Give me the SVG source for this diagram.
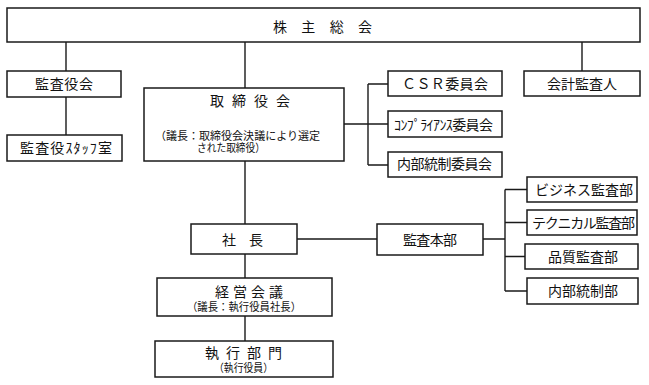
<svg xmlns="http://www.w3.org/2000/svg" width="649" height="385" viewBox="0 0 649 385">
<style>
.b{fill:#fff;stroke:#1a1a1a;stroke-width:1.5}
.c{fill:none;stroke:#1a1a1a;stroke-width:1.4}
text{font-family:"Noto Sans CJK JP","Noto Sans CJK SC",sans-serif;font-size:14px;fill:#111}
.s{font-size:11px}
</style>
<rect width="649" height="385" fill="#fff"/>
<g id="connectors">
<path class="c" d="M66 42V71M66 97V135M245 42V88M245 161V224M245 254V278M245 316V341M582 42V71"/>
<path class="c" d="M344 124H368M368 84V165M368 84H388M368 124H388M368 165H388"/>
<path class="c" d="M297 239H377M483 239H505M505 189.5V291M505 189.5H527M505 222.5H527M505 256.5H525M505 291H527"/>
</g>
<g id="n-sokai"><rect class="b" x="7" y="8" width="633" height="34"/><text x="273" y="32" textLength="99" lengthAdjust="spacing">株主総会</text></g>
<g id="n-kansayakukai"><rect class="b" x="7" y="71" width="114" height="26"/><text x="35" y="89" textLength="58">監査役会</text></g>
<g id="n-staff"><rect class="b" x="7" y="135" width="115" height="26"/><text x="20" y="153" textLength="92">監査役ｽﾀｯﾌ室</text></g>
<g id="n-torishimariyakukai"><rect class="b" x="144" y="88" width="200" height="73"/><text x="210" y="106" textLength="80">取締役会</text><text class="s" x="155" y="140" textLength="165" lengthAdjust="spacingAndGlyphs">（議長：取締役会決議により選定</text><text class="s" x="197" y="152" textLength="68" lengthAdjust="spacingAndGlyphs">された取締役）</text></g>
<g id="n-csr"><rect class="b" x="388" y="71" width="114" height="25"/><text x="402" y="89" textLength="86">ＣＳＲ委員会</text></g>
<g id="n-compliance"><rect class="b" x="388" y="111" width="114" height="26"/><text x="394" y="130" textLength="99">ｺﾝﾌﾟﾗｲｱﾝｽ委員会</text></g>
<g id="n-naibutoseiiinkai"><rect class="b" x="388" y="152" width="114" height="25"/><text x="397" y="169" textLength="95">内部統制委員会</text></g>
<g id="n-kaikei"><rect class="b" x="524" y="71" width="116" height="25"/><text x="547" y="89" textLength="70">会計監査人</text></g>
<g id="n-shacho"><rect class="b" x="191" y="224" width="106" height="30"/><text x="222" y="245" textLength="41">社長</text></g>
<g id="n-kansahonbu"><rect class="b" x="377" y="224" width="106" height="31"/><text x="403" y="245" textLength="54">監査本部</text></g>
<g id="n-business"><rect class="b" x="527" y="177" width="110" height="25"/><text x="535" y="195" textLength="98">ビジネス監査部</text></g>
<g id="n-technical"><rect class="b" x="527" y="210" width="110" height="25"/><text x="532" y="228" textLength="103">テクニカル監査部</text></g>
<g id="n-hinshitsu"><rect class="b" x="525" y="244" width="113" height="25"/><text x="548" y="262" textLength="70">品質監査部</text></g>
<g id="n-naibutosei"><rect class="b" x="527" y="278" width="111" height="26"/><text x="548" y="296" textLength="70">内部統制部</text></g>
<g id="n-keieikaigi"><rect class="b" x="157" y="278" width="175" height="38"/><text x="215" y="297" textLength="68">経営会議</text><text class="s" x="187" y="311" textLength="114" lengthAdjust="spacingAndGlyphs">（議長：執行役員社長）</text></g>
<g id="n-shikkobumon"><rect class="b" x="155" y="341" width="178" height="36"/><text x="205" y="358" textLength="77">執行部門</text><text class="s" x="214" y="372" textLength="59" lengthAdjust="spacingAndGlyphs">（執行役員）</text></g>
</svg>
